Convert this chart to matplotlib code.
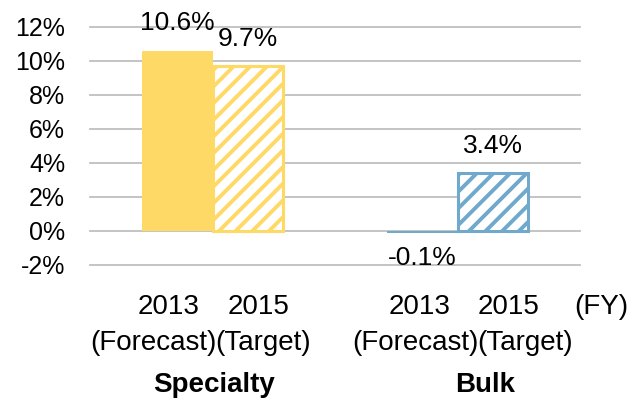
import matplotlib
matplotlib.use("Agg")
from matplotlib import pyplot as plt
import numpy as np

plt.rcParams['font.family'] = ['Liberation Sans', 'Noto Sans CJK JP', 'DejaVu Sans']
plt.rcParams['hatch.linewidth'] = 2.8

groups = ['Specialty', 'Bulk']
years = ['2013', '2015']
notes = ['(Forecast)', '(Target)']
values_2013 = [10.6, -0.1]
values_2015 = [9.7, 3.4]
labels_2013 = ['10.6%', '-0.1%']
labels_2015 = ['9.7%', '3.4%']
yticks = [-2, 0, 2, 4, 6, 8, 10, 12]
colors = ['#FFD966', '#70A9CB']

# label offsets from group centre (x units), per group
year_dx = [[-0.178, 0.19], [-0.153, 0.21]]
note_dx = [[-0.24, 0.206], [-0.171, 0.276]]
group_dx = [0.006, 0.112]

fig = plt.figure(figsize=(6.34, 4.01), dpi=100)
ax = fig.add_axes([90/634, 1-265/401, 490/634, 238/401])

x = np.arange(len(groups))
width = 0.286
for i in range(len(groups)):
    ax.bar(x[i] - width/2, values_2013[i], width, color=colors[i], edgecolor=colors[i], linewidth=0)
    ax.bar(x[i] + width/2, values_2015[i], width, color='white', edgecolor=colors[i],
           hatch='//', linewidth=2.2)
    off = 20 if values_2013[i] >= 0 else -18
    ax.annotate(labels_2013[i], (x[i] - width/2, values_2013[i]), xytext=(0, off),
                textcoords='offset points', ha='center', va='center', fontsize=19)
    ax.annotate(labels_2015[i], (x[i] + width/2, values_2015[i]), xytext=(0, 19.5),
                textcoords='offset points', ha='center', va='center', fontsize=19)

ax.set_xlim(-0.5, 1.5)
ax.set_ylim(-2, 12)
ax.set_yticks(yticks)
ax.set_yticklabels([str(t) + '%' for t in yticks], fontsize=18)
ax.tick_params(axis='y', length=0, pad=18)
ax.set_xticks([])
for s in ax.spines.values():
    s.set_visible(False)
for t in yticks:
    ax.axhline(t, color='#BFBFBF', linewidth=1.3, zorder=0, clip_on=False)

tr = ax.get_xaxis_transform()
for i in range(len(groups)):
    for j in range(2):
        ax.text(x[i] + year_dx[i][j], -0.176, years[j], transform=tr,
                ha='center', va='center', fontsize=20)
        ax.text(x[i] + note_dx[i][j], -0.328, notes[j], transform=tr,
                ha='center', va='center', fontsize=20)
    ax.text(x[i] + group_dx[i], -0.504, groups[i], transform=tr,
            ha='center', va='center', fontsize=20, fontweight='bold')
ax.text(1.586, -0.176, '(FY)', transform=tr, ha='center', va='center', fontsize=20)

fig.savefig('out.png', dpi=100)
